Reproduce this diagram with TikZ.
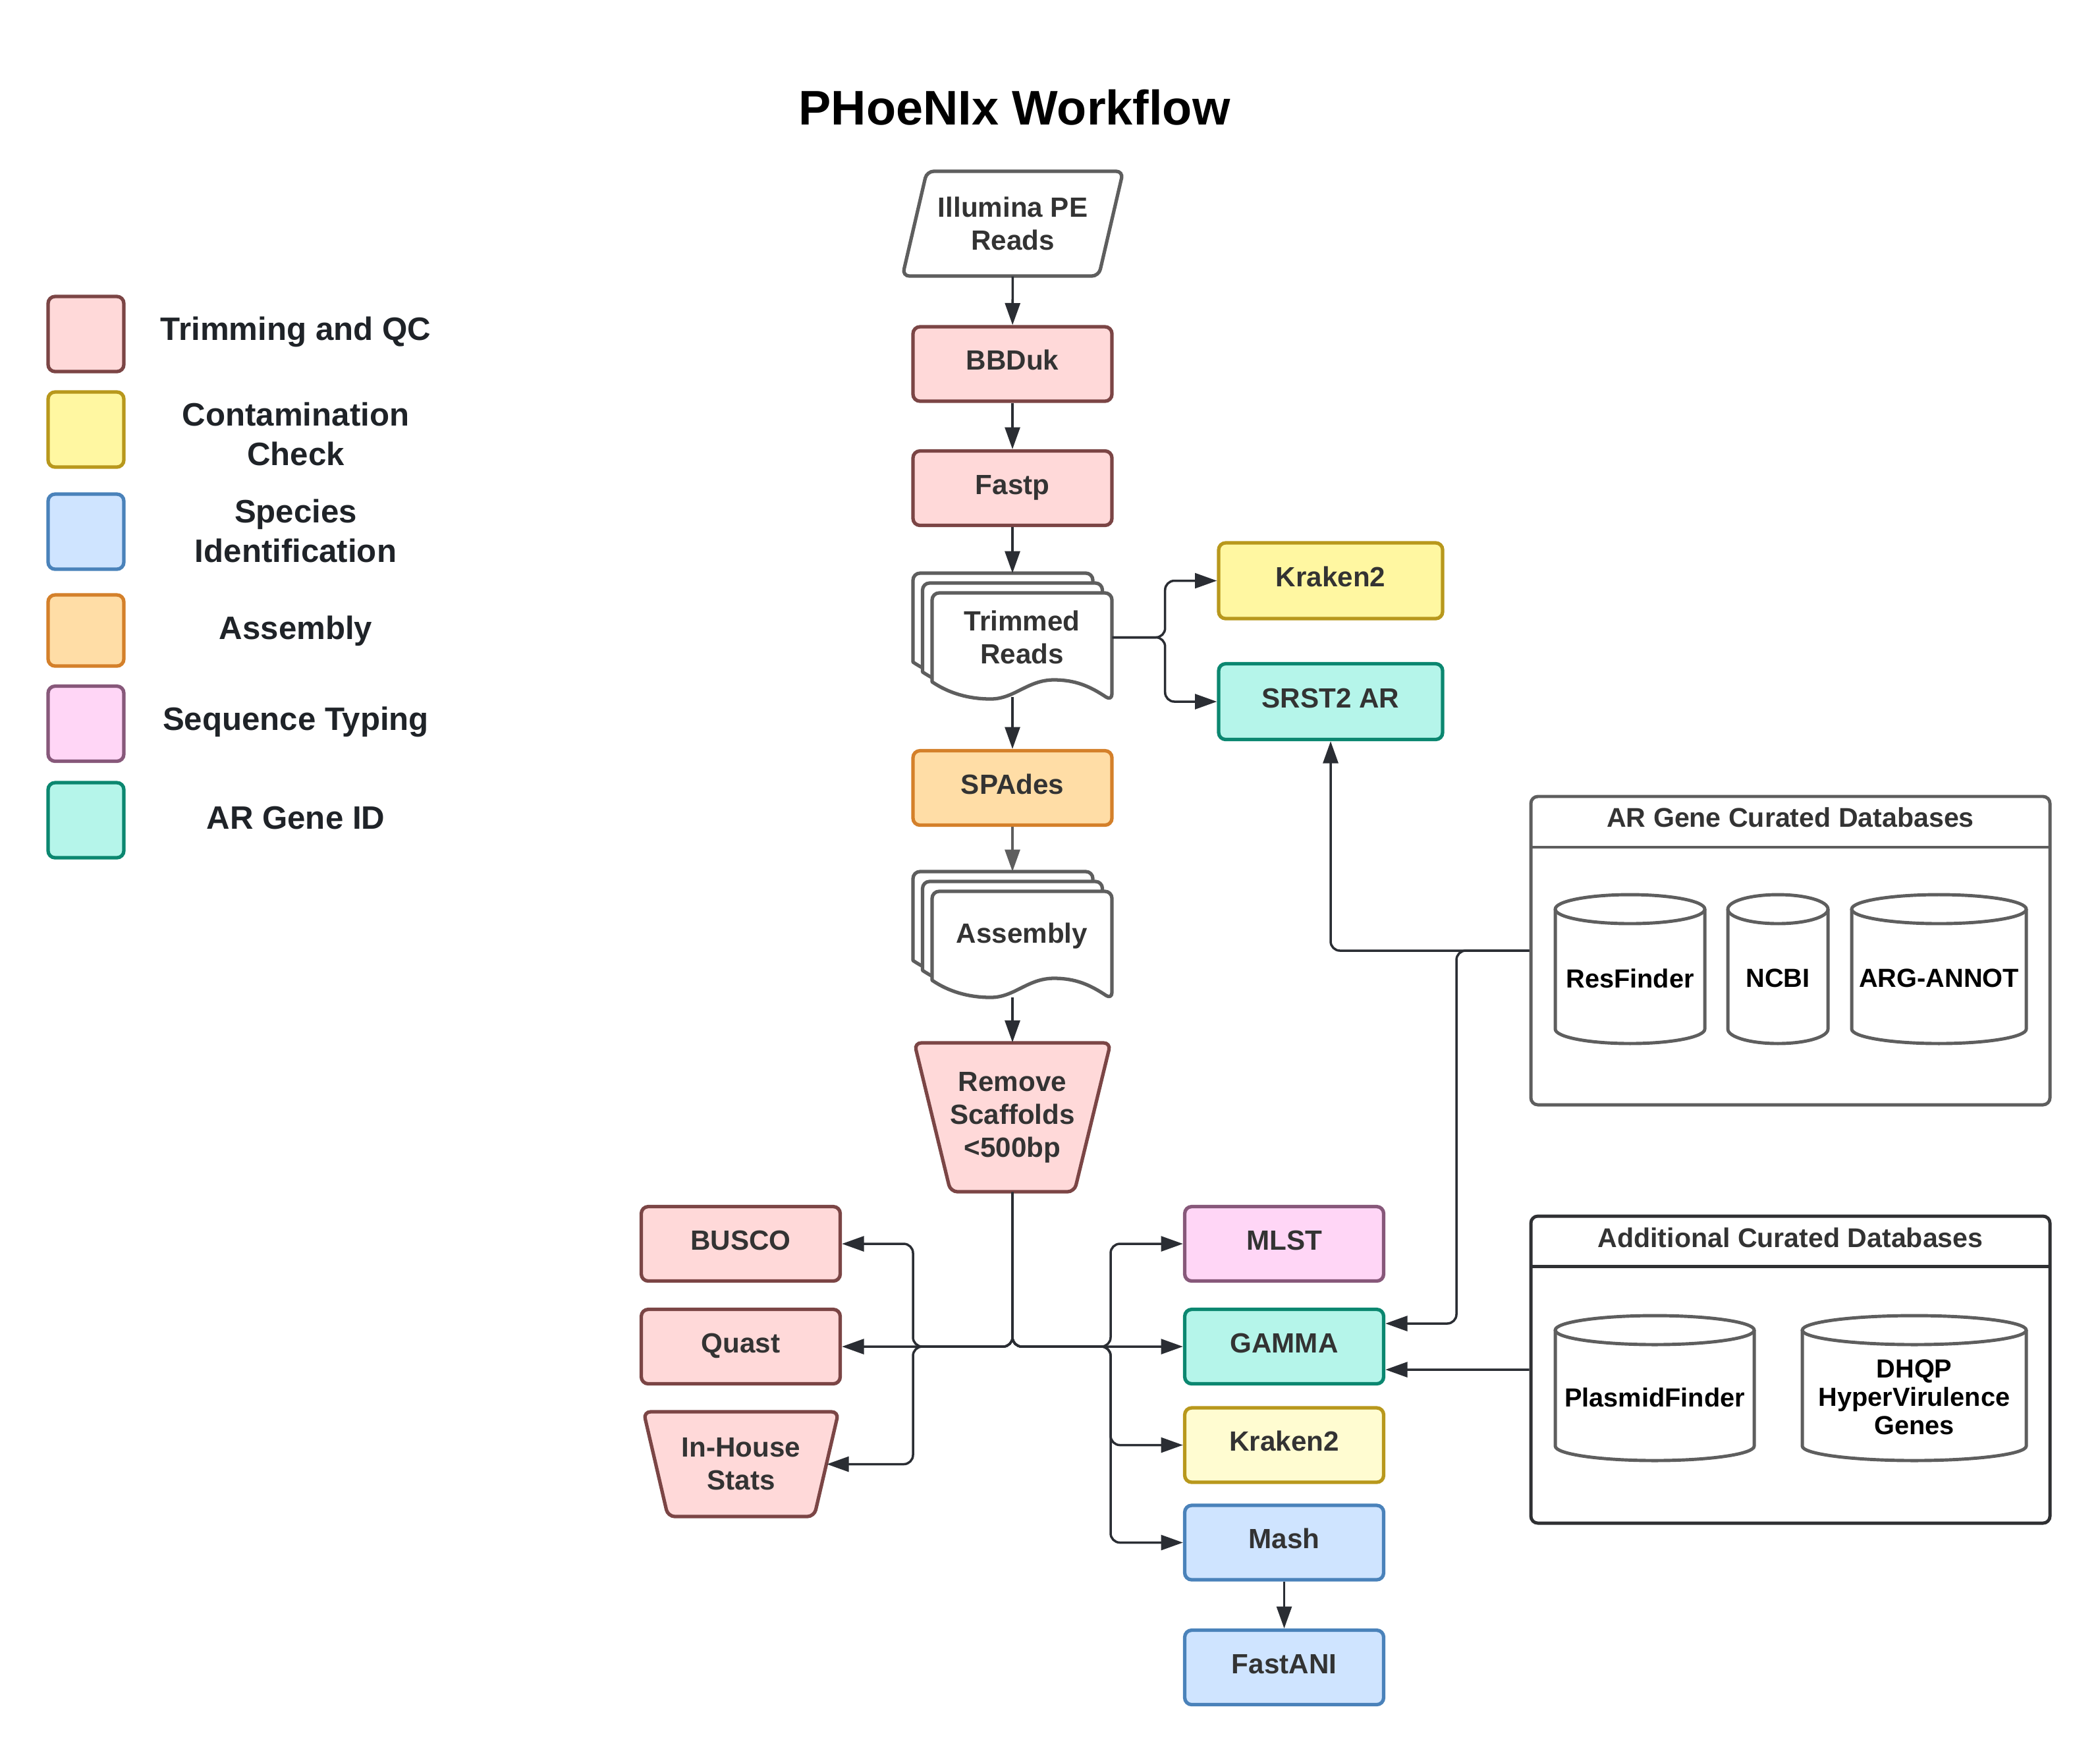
\documentclass[tikz,border=0pt]{standalone}
\usepackage{fontspec}
\setmainfont{Liberation Sans}
\usetikzlibrary{arrows.meta,calc}

\definecolor{qcfill}{HTML}{FFD9D9}
\definecolor{qcline}{HTML}{7B4545}
\definecolor{ctfill}{HTML}{FFF7A1}
\definecolor{ctlight}{HTML}{FFFCD1}
\definecolor{ctline}{HTML}{B8981C}
\definecolor{spfill}{HTML}{CFE4FF}
\definecolor{spline}{HTML}{4A82BA}
\definecolor{asfill}{HTML}{FFDDA6}
\definecolor{asline}{HTML}{D4802A}
\definecolor{stfill}{HTML}{FFD6F6}
\definecolor{stline}{HTML}{87587A}
\definecolor{arfill}{HTML}{B5F5EA}
\definecolor{arline}{HTML}{0B8770}
\definecolor{docgray}{HTML}{5E5E5E}
\definecolor{boxdark}{HTML}{2F3033}
\definecolor{lngray}{HTML}{2A2D33}
\definecolor{txtgray}{HTML}{333333}
\definecolor{legtxt}{HTML}{1F2328}

\newcommand{\procfont}{\bfseries\fontsize{12}{14.2}\selectfont}
\newcommand{\legfont}{\bfseries\fontsize{14}{17}\selectfont}
\newcommand{\dbheadfont}{\bfseries\fontsize{11.7}{14}\selectfont}
\newcommand{\dbfont}{\bfseries\fontsize{11.3}{12.3}\selectfont}
\newcommand{\wftitlefont}{\bfseries\fontsize{21}{25}\selectfont}

% database drum: name, x, top, bottom, half width, text
\newcommand{\dbcyl}[6]{%
  \draw[docgray, line width=1.4pt] (#2-#5,#3-0.22) -- (#2-#5,#4+0.22)
    arc[start angle=180, end angle=360, x radius=#5, y radius=0.22] -- (#2+#5,#3-0.22);
  \draw[docgray, line width=1.4pt] (#2,#3-0.22) ellipse[x radius=#5, y radius=0.22];
  \node[dbtext] (#1) at (#2,{(#3+#4)/2-0.14}) {#6};
}

\tikzset{
  proc/.style={rectangle, rounded corners=3pt, line width=1.5pt, minimum width=3.02cm,
    minimum height=1.13cm, inner sep=2pt, align=center, text=txtgray, font=\procfont,
    text height=8.6pt, text depth=3.4pt},
  qc/.style={proc, draw=qcline, fill=qcfill},
  contam/.style={proc, draw=ctline, fill=ctfill},
  species/.style={proc, draw=spline, fill=spfill},
  asm/.style={proc, draw=asline, fill=asfill},
  seqtype/.style={proc, draw=stline, fill=stfill},
  argene/.style={proc, draw=arline, fill=arfill},
  shapetext/.style={inner sep=0pt, align=center, text=txtgray, font=\procfont},
  legbox/.style={minimum width=1.15cm, minimum height=1.14cm},
  legtext/.style={align=center, text=legtxt, font=\legfont},
  dbbox/.style={rectangle, rounded corners=3pt, line width=1.4pt, minimum width=7.88cm},
  dbhead/.style={text=txtgray, font=\dbheadfont},
  dbtext/.style={align=center, text=black, font=\dbfont},
  conn/.style={draw=lngray, line width=1pt, rounded corners=4pt,
    -{Triangle[length=9.5pt,width=6.5pt]}},
  docpage/.pic={
    \draw[docgray, line width=1.5pt, fill=white, line join=round] (0,-1.35)
      [rounded corners=3pt] -- (0,0) -- (2.73,0) -- (2.73,-1.64) [sharp corners]
      .. controls (2.40,-1.42) and (2.18,-1.32) .. (1.85,-1.32)
      .. controls (1.45,-1.32) and (1.25,-1.61) .. (0.89,-1.61)
      .. controls (0.55,-1.61) and (0.25,-1.52) .. (0,-1.35) -- cycle;
  }
}

\begin{document}
\begin{tikzpicture}
\useasboundingbox (0,0) rectangle (31.88,-26.63);

\node[anchor=base, font=\wftitlefont] (title) at (15.40,-1.89) {PHoeNIx Workflow};

% legend
\node[qc, legbox] (legqc) at (1.305,-5.07) {};
\node[contam, legbox] (legct) at (1.305,-6.52) {};
\node[species, legbox] (legsp) at (1.305,-8.07) {};
\node[asm, legbox, minimum height=1.08cm] (legas) at (1.305,-9.57) {};
\node[seqtype, legbox] (legst) at (1.305,-10.985) {};
\node[argene, legbox] (legar) at (1.305,-12.45) {};
\node[legtext] (legqctxt) at (4.49,-5.04) {Trimming and QC};
\node[legtext] (legcttxt) at (4.49,-6.59) {Contamination\\Check};
\node[legtext] (legsptxt) at (4.49,-8.06) {Species\\Identification};
\node[legtext] (legastxt) at (4.49,-9.58) {Assembly};
\node[legtext] (legsttxt) at (4.49,-10.96) {Sequence Typing};
\node[legtext] (legartxt) at (4.49,-12.42) {AR Gene ID};

% main column
\draw[docgray, line width=1.5pt, fill=white, rounded corners=3pt]
  (13.70,-4.19) -- (14.07,-2.60) -- (17.05,-2.60) -- (16.68,-4.19) -- cycle;
\node[shapetext, minimum width=2.98cm, minimum height=1.59cm] (illumina) at (15.375,-3.395) {Illumina PE\\Reads};
\node[qc] (bbduk) at (15.37,-5.525) {BBDuk};
\node[qc] (fastp) at (15.37,-7.41) {Fastp};

\pic at (13.86,-8.70) {docpage};
\pic at (14.005,-8.85) {docpage};
\pic at (14.15,-9.00) {docpage};
\node[shapetext, minimum width=2.73cm, minimum height=1.35cm] (trimmed) at (15.515,-9.675) {Trimmed\\Reads};
\coordinate (trimtop) at (15.37,-8.70);
\coordinate (trimbot) at (15.37,-10.58);
\coordinate (trimsplit) at ($(trimmed.east)+(0.80,0)$);

\node[contam, minimum width=3.40cm, minimum height=1.15cm] (kraken) at (20.20,-8.815) {Kraken2};
\node[argene, minimum width=3.40cm, minimum height=1.15cm] (srst) at (20.20,-10.65) {SRST2 AR};

\node[asm] (spades) at (15.37,-11.96) {SPAdes};

\pic at (13.86,-13.23) {docpage};
\pic at (14.005,-13.38) {docpage};
\pic at (14.15,-13.53) {docpage};
\node[shapetext, minimum width=2.73cm, minimum height=1.35cm] (assembly) at (15.515,-14.205) {Assembly};
\coordinate (asmtop) at (15.37,-13.23);
\coordinate (asmbot) at (15.37,-15.14);

\draw[qcline, fill=qcfill, line width=1.5pt, rounded corners=3pt]
  (13.88,-15.83) -- (16.86,-15.83) -- (16.31,-18.09) -- (14.43,-18.09) -- cycle;
\node[shapetext, minimum width=2.43cm, minimum height=2.26cm] (remove) at (15.37,-16.96) {Remove\\Scaffolds\\<500bp};

% left outputs
\node[qc] (busco) at (11.245,-18.88) {BUSCO};
\node[qc] (quast) at (11.245,-20.44) {Quast};
\draw[qcline, fill=qcfill, line width=1.5pt, rounded corners=3pt]
  (9.77,-21.43) -- (12.73,-21.43) -- (12.36,-23.02) -- (10.14,-23.02) -- cycle;
\node[shapetext, minimum width=2.59cm, minimum height=1.59cm] (inhouse) at (11.25,-22.225) {In-House\\Stats};

% right outputs
\node[seqtype] (mlst) at (19.495,-18.88) {MLST};
\node[argene] (gamma) at (19.495,-20.44) {GAMMA};
\node[proc, draw=ctline, fill=ctlight] (krakenb) at (19.495,-21.935) {Kraken2};
\node[species] (mash) at (19.495,-23.415) {Mash};
\node[species] (fastani) at (19.495,-25.31) {FastANI};

% databases
\node[dbbox, draw=docgray, minimum height=4.68cm] (ardb) at (27.18,-14.43) {};
\draw[docgray, line width=1.4pt] (23.24,-12.86) -- (31.12,-12.86);
\node[dbhead] (ardbtitle) at (27.18,-12.41) {AR Gene Curated Databases};
\dbcyl{resfinder}{24.745}{-13.58}{-15.84}{1.135}{ResFinder}
\dbcyl{ncbi}{26.99}{-13.58}{-15.84}{0.76}{NCBI}
\dbcyl{argannot}{29.435}{-13.58}{-15.84}{1.325}{ARG-ANNOT}

\node[dbbox, draw=boxdark, minimum height=4.66cm] (adddb) at (27.18,-20.79) {};
\draw[boxdark, line width=1.4pt] (23.24,-19.22) -- (31.12,-19.22);
\node[dbhead] (adddbtitle) at (27.18,-18.79) {Additional Curated Databases};
\dbcyl{plasmid}{25.12}{-19.97}{-22.17}{1.51}{PlasmidFinder}
\dbcyl{dhqp}{29.06}{-19.97}{-22.17}{1.70}{DHQP\\HyperVirulence\\Genes}

% connectors
\draw[conn] (illumina) -- (bbduk);
\draw[conn] (bbduk) -- (fastp);
\draw[conn] (fastp) -- (trimtop);
\draw[conn] (trimmed.east) -- (trimsplit) |- (kraken.west);
\draw[conn] (trimmed.east) -- (trimsplit) |- (srst.west);
\draw[conn] (trimbot) -- (spades);
\draw[conn, draw=docgray] (spades) -- (asmtop);
\draw[conn] (asmbot) -- (remove);

\coordinate (splitL) at (13.86,-20.44);
\coordinate (splitR) at (16.86,-20.44);
\draw[conn] (remove.south) |- (quast.east);
\draw[conn] (remove.south) |- (splitL) |- (busco.east);
\draw[conn] (remove.south) |- (splitL) |- (inhouse.east);
\draw[conn] (remove.south) |- (gamma.west);
\draw[conn] (remove.south) |- (splitR) |- (mlst.west);
\draw[conn] (remove.south) |- (splitR) |- (krakenb.west);
\draw[conn] (remove.south) |- (splitR) |- (mash.west);
\draw[conn] (mash) -- (fastani);

\coordinate (arsplit) at (22.11,-14.43);
\draw[conn] (ardb.west) -| (srst.south);
\draw[conn] (ardb.west) -- (arsplit) |- ([yshift=0.35cm]gamma.east);
\draw[conn] (adddb.west) -- ([yshift=-0.35cm]gamma.east);
\end{tikzpicture}
\end{document}
